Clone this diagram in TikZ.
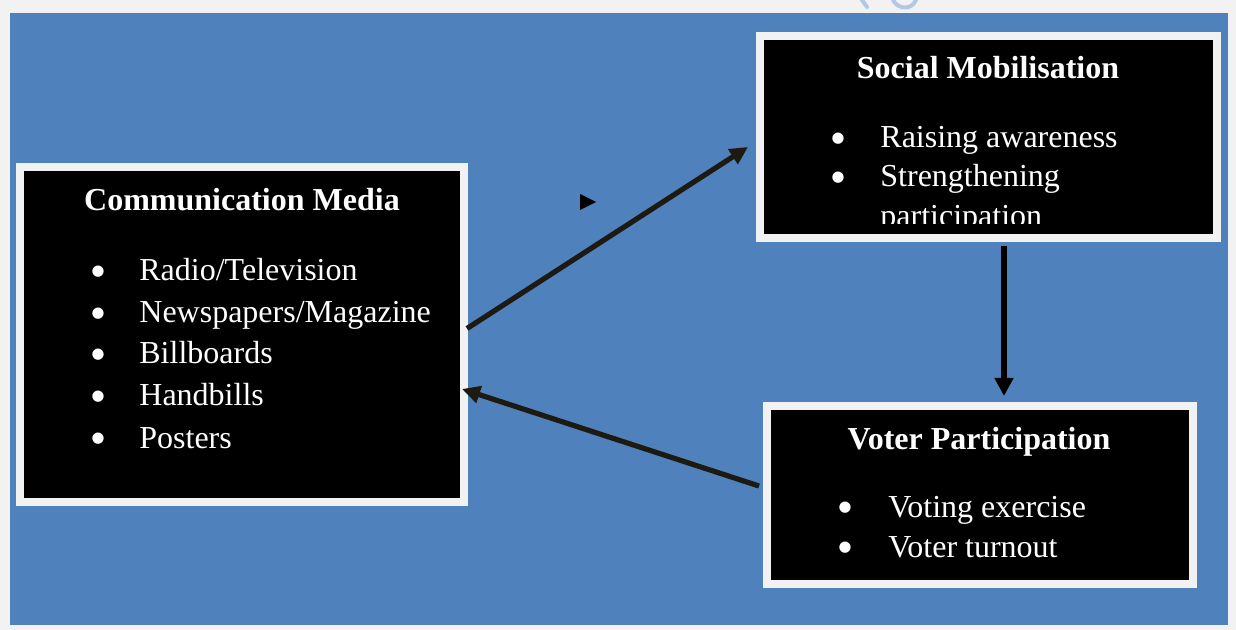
\documentclass[tikz,border=0pt]{standalone}
\usepackage{fontspec}
\setmainfont{Liberation Serif}
\newfontfamily\bulfont{DejaVu Sans}
\usetikzlibrary{arrows.meta,calc}
\definecolor{pagegray}{HTML}{F2F2F2}
\definecolor{bgblue}{HTML}{4F81BD}
\definecolor{arrowdark}{HTML}{1D1B11}
\definecolor{wmblue}{HTML}{B4C8E4}
\tikzset{
  box/.style={fill=black, draw=pagegray, line width=4pt, inner sep=0pt},
  txt/.style={text=white, inner sep=0pt, font=\fontsize{16}{20}\selectfont},
  ttl/.style={txt, font=\fontsize{16}{20}\selectfont\bfseries, anchor=base},
  item/.style={txt, anchor=base west},
  bul/.style={txt, anchor=center, font=\bulfont\fontsize{7.4}{8}\selectfont},
  conn/.style={arrowdark, line width=2.6pt, -{Triangle[length=9pt,width=8.5pt]}},
  vconn/.style={black, line width=2.6pt, -{Triangle[length=9pt,width=9pt]}},
  wm/.style={wmblue, line width=2pt, line cap=round}
}
\begin{document}
\begin{tikzpicture}[x=0.5pt, y=-0.5pt]
\useasboundingbox (0,0) rectangle (1236,630);
\fill[pagegray] (0,0) rectangle (1236,630);
% faint watermark fragment at top
\draw[wm] (862,0) -- (867,7);
\draw[wm] (893,0) .. controls (898,10) and (912,10) .. (916,0);
% blue panel
\fill[bgblue] (10,13) rectangle (1228,625);

% boxes
\node[box, minimum width=222pt, minimum height=167.5pt] (media) at (242,334.5) {};
\node[box, minimum width=228.5pt, minimum height=101pt] (mobil) at (988.5,137) {};
\node[box, minimum width=213pt, minimum height=89pt] (voter) at (980,495) {};

% Communication Media texts
\node[ttl] (mediaT) at (242,211) {Communication Media};
\node[bul] (mb1) at (98,271.5) {●};
\node[item] (mi1) at (139,281) {Radio/Television};
\node[bul] (mb2) at (98,313.5) {●};
\node[item] (mi2) at (139,323) {Newspapers/Magazine};
\node[bul] (mb3) at (98,354.5) {●};
\node[item] (mi3) at (139,364) {Billboards};
\node[bul] (mb4) at (98,396.5) {●};
\node[item] (mi4) at (139,406) {Handbills};
\node[bul] (mb5) at (98,438.5) {●};
\node[item] (mi5) at (139,448) {Posters};

% Social Mobilisation texts
\node[ttl] (mobilT) at (988,79) {Social Mobilisation};
\node[bul] (sb1) at (838,138.5) {●};
\node[item] (si1) at (880,148) {Raising awareness};
\node[bul] (sb2) at (838,177.5) {●};
\node[item] (si2) at (880,187) {Strengthening};
\begin{scope}
  \clip (764,39) rectangle (1213,224);
  \node[item] (si3) at (880,227) {participation};
\end{scope}

% Voter Participation texts
\node[ttl] (voterT) at (979,449) {Voter Participation};
\node[bul] (vb1) at (845,507.5) {●};
\node[item] (vi1) at (888,517) {Voting exercise};
\node[bul] (vb2) at (845,547.5) {●};
\node[item] (vi2) at (888,557) {Voter turnout};

% connectors
\draw[conn] ($(media.east)+(-1,-6)$) -- ($(mobil.west)+(-8,10)$);
\draw[conn] ($(voter.west)+(-4,-9)$) -- ($(media.east)+(-6,54.5)$);
\draw[vconn] ($(mobil.south)+(15.5,4)$) -- ($(voter.north)+(24,-6)$);

% stray arrowhead
\fill[black] (580,194) -- (596,202) -- (580,210) -- cycle;
\end{tikzpicture}
\end{document}
